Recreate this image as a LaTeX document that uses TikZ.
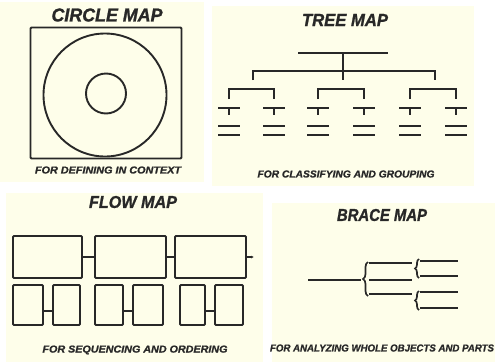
\documentclass[tikz,border=0pt]{standalone}
\usepackage{fontspec}
\setmainfont{Liberation Sans}
\newfontfamily\heavyfont[FakeBold=1.2]{Liberation Sans}
\usepackage{graphicx}
\usetikzlibrary{arrows.meta,decorations.pathreplacing}
\definecolor{cream}{RGB}{254,254,234}
\definecolor{ink}{RGB}{40,40,40}
\newcommand{\fitext}[3]{\resizebox{#1pt}{#2pt}{\heavyfont\bfseries\itshape #3}}
\tikzset{
  panel/.style={fill=cream, draw=none},
  ln/.style={draw=ink, line width=1.9pt},
  thin/.style={draw=ink, line width=1.7pt},
  lbl/.style={inner sep=0pt, text=ink},
  fbox/.style={draw=ink, line width=1.9pt, rounded corners=1pt},
  curly/.style={draw=ink, line width=1.7pt, decorate, decoration={brace, amplitude=#1}}
}
\begin{document}
\begin{tikzpicture}[x=1pt,y=-1pt]
\useasboundingbox[fill=white] (0,0) rectangle (495,362);
% panels
\fill[panel] (0,2) rectangle (204,182);
\fill[panel] (212,6) rectangle (474,186);
\fill[panel] (6,193) rectangle (263,362);
\fill[panel] (272,203) rectangle (495,362);

% ---------- CIRCLE MAP ----------
\node[lbl] (t1) at (107,15) {\fitext{111}{13}{CIRCLE MAP}};
\node[fbox, minimum width=151pt, minimum height=131pt, inner sep=0pt] (sq) at (106,93) {};
\node[ln, circle, minimum size=123pt, inner sep=0pt] (oc) at (105,95) {};
\node[ln, circle, minimum size=40pt, inner sep=0pt] (ic) at (106,93.5) {};
\node[lbl] (c1) at (108,170) {\fitext{146}{7}{FOR DEFINING IN CONTEXT}};

% ---------- TREE MAP ----------
\node[lbl] (t2) at (345,20) {\fitext{86}{12}{TREE MAP}};
\coordinate (r0l) at (298,53); \coordinate (r0r) at (388,53);
\coordinate (r0c) at (343,53);
\draw[ln] (r0l) -- (r0r);
\coordinate (r1c) at (343,80);
\draw[ln] (r0c) -- (r1c);
\coordinate (r1l) at (253,71); \coordinate (r1r) at (435,71);
\draw[ln] (253,80) -- (r1l) -- (r1r) -- (435,80);
\foreach \a/\b in {229/274, 318/364, 410/456}{
  \draw[ln] (\a,99) -- (\a,89) -- (\b,89) -- (\b,99);
}
\foreach \c in {229,274,318,364,410,456}{
  \draw[thin] (\c-11,108) -- (\c+11,108);
  \draw[thin] (\c,108) -- (\c,115);
  \draw[thin] (\c-11,126) -- (\c+11,126);
  \draw[thin] (\c-11,135) -- (\c+11,135);
}
\node[lbl] (c2) at (346,174) {\fitext{177}{7}{FOR CLASSIFYING AND GROUPING}};

% ---------- FLOW MAP ----------
\node[lbl] (t3) at (133,202) {\fitext{88}{12}{FLOW MAP}};
\node[fbox, minimum width=69pt, minimum height=42pt, inner sep=0pt] (b1) at (47.5,257) {};
\node[fbox, minimum width=71pt, minimum height=42pt, inner sep=0pt] (b2) at (130.5,257) {};
\node[fbox, minimum width=71pt, minimum height=42pt, inner sep=0pt] (b3) at (210.5,257) {};
\coordinate (bend) at (254,257);
\draw[ln] (b1.east) -- (b2.west);
\draw[ln] (b2.east) -- (b3.west);
\draw[ln, -{Latex[length=3pt,width=3pt]}] (b3.east) -- (bend);
\foreach \n/\x/\w in {s1/28/30, s2/66.5/27, s3/109/28, s4/148/30, s5/192.5/25, s6/229/28}{
  \node[fbox, minimum width=\w pt, minimum height=40pt, inner sep=0pt] (\n) at (\x,305) {};
}
\draw[ln] ([yshift=-6pt]s1.east) -- ([yshift=-6pt]s2.west);
\draw[ln] ([yshift=-6pt]s3.east) -- ([yshift=-6pt]s4.west);
\draw[ln] ([yshift=-6pt]s5.east) -- ([yshift=-6pt]s6.west);
\node[lbl] (c3) at (135,350) {\fitext{185}{7}{FOR SEQUENCING AND ORDERING}};

% ---------- BRACE MAP ----------
\node[lbl] (t4) at (382,215) {\fitext{90}{12}{BRACE MAP}};
\coordinate (m0) at (308,280); \coordinate (m1) at (361,280);
\draw[thin] (m0) -- (m1);
\coordinate (b1top) at (368,262); \coordinate (b1bot) at (368,296);
\draw[curly=5pt] (b1bot) -- (b1top);
\foreach \y in {263,280,294}{
  \draw[thin] (369,\y) -- (412,\y);
}
\coordinate (b2top) at (419,259); \coordinate (b2bot) at (419,278);
\coordinate (b3top) at (419,291); \coordinate (b3bot) at (419,310);
\draw[curly=4pt] (b2bot) -- (b2top);
\draw[curly=4pt] (b3bot) -- (b3top);
\foreach \y in {261,276,292,308}{
  \draw[thin] (420,\y) -- (458,\y);
}
\node[lbl] (c4) at (382,348) {\fitext{224}{7}{FOR ANALYZING WHOLE OBJECTS AND PARTS}};
\end{tikzpicture}
\end{document}
